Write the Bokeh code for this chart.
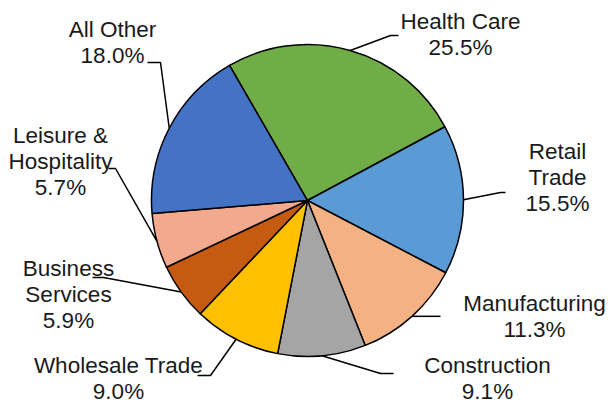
import numpy as np
from bokeh.plotting import figure
from bokeh.models import Range1d, ColumnDataSource
from bokeh.core.properties import value
from bokeh.embed import file_html
from bokeh.resources import INLINE

# ---- data ----
categories = ["Health Care", "Retail Trade", "Manufacturing", "Construction",
              "Wholesale Trade", "Business Services", "Leisure & Hospitality", "All Other"]
shares = [25.5, 15.5, 11.3, 9.1, 9.0, 5.9, 5.7, 18.0]
label_lines = [["Health Care", "25.5%"],
               ["Retail", "Trade", "15.5%"],
               ["Manufacturing", "11.3%"],
               ["Construction", "9.1%"],
               ["Wholesale Trade", "9.0%"],
               ["Business", "Services", "5.9%"],
               ["Leisure &", "Hospitality", "5.7%"],
               ["All Other", "18.0%"]]
colors = ["#70AD47", "#5B9BD5", "#F4B183", "#A5A5A5",
          "#FFC000", "#C55A11", "#F2A98D", "#4472C4"]

# ---- layout (pixel coords, y downward) ----
W, H = 608, 402
CX, CY, R = 307, 200, 156
FIRST_SLICE_ANGLE = 330  # degrees clockwise from 12 o'clock
# label text centre x, first baseline y ; leader elbow (x,y) ; leader end x
label_cx = [460, 557, 534, 487, 118, 68, 60, 112]
label_y0 = [28, 158, 310, 372, 372, 275, 142, 36]
elbow = [(390, 35), (500, 192), None, (380, 373), (210, 375), (103, 277), (115, 168), (160, 62)]
end_x = [398, 505, 440, 393, 197, 92, 108, 147]
LINE_H = 26
BASELINE_FIX = 7

def fy(py):
    return H - py

p = figure(width=W, height=H, output_backend="svg", toolbar_location=None,
           x_range=Range1d(0, W), y_range=Range1d(0, H), min_border=0)
p.axis.visible = False
p.grid.visible = False
p.outline_line_color = None
p.background_fill_color = "white"

vals = np.array(shares, dtype=float)
frac = vals / vals.sum()
cum_end = np.cumsum(frac)
cum_start = cum_end - frac
base = np.deg2rad(90 + (360 - FIRST_SLICE_ANGLE))
start_angle = base - cum_end * 2 * np.pi
end_angle = base - cum_start * 2 * np.pi

src = ColumnDataSource(dict(start=start_angle, end=end_angle, color=colors, cat=categories))
p.wedge(x=CX, y=fy(CY), radius=R, start_angle="start", end_angle="end",
        fill_color="color", line_color="black", line_width=1.5, source=src)

mid = (start_angle + end_angle) / 2
for i in range(len(categories)):
    ex = CX + R * np.cos(mid[i])
    ey = fy(CY) + R * np.sin(mid[i])
    xs, ys = [ex], [ey]
    if elbow[i] is not None:
        xs.append(elbow[i][0]); ys.append(fy(elbow[i][1]))
        xs.append(end_x[i]); ys.append(fy(elbow[i][1]))
    else:
        xs.append(end_x[i]); ys.append(ey)
    p.line(xs, ys, line_color="black", line_width=1.5)

    lines = label_lines[i]
    p.text(x=[label_cx[i]] * len(lines),
           y=[fy(label_y0[i] - BASELINE_FIX + k * LINE_H) for k in range(len(lines))],
           text=lines, text_align="center", text_baseline="alphabetic",
           text_font=value("Liberation Sans"), text_font_size="22.5px",
           text_color="#1a1a1a")

open("out.html", "w").write(file_html(p, INLINE))
